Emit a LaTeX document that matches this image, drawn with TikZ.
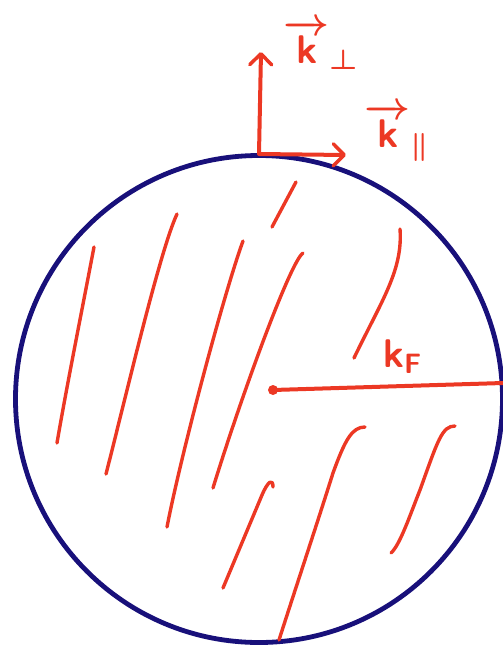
\documentclass[tikz,border=0pt]{standalone}
\usetikzlibrary{arrows.meta}
\definecolor{navy}{RGB}{24,16,122}
\definecolor{pen}{RGB}{236,56,36}
\begin{document}
\begin{tikzpicture}[x=1pt,y=-1pt,
  hatch/.style={pen, line width=3.4pt, line cap=round, line join=round},
  vecarrow/.style={pen, line width=4pt, line cap=round, line join=round},
  lbl/.style={text=pen, inner sep=0pt, scale=4, transform shape, font=\boldmath},
  barb/.tip={Straight Barb[length=11pt, width=22pt, line width=3.5pt, round]}]
\useasboundingbox (0,0) rectangle (503,649);
% Fermi sphere
\node[circle, draw=navy, line width=4.8pt, minimum size=487pt, inner sep=0pt] (fs) at (259,399) {};
% hatching
\draw[hatch] (94,247) .. controls (82,310) and (66,390) .. (57,443);
\draw[hatch] (177,214) .. controls (160,250) and (125,400) .. (106,474);
\draw[hatch] (243,241) .. controls (225,290) and (182,450) .. (167,527);
\draw[hatch] (296,182) -- (272,227);
\draw[hatch] (303,253) .. controls (290,262) and (240,400) .. (213,488);
\draw[hatch] (400,229) .. controls (403,270) and (382,300) .. (354,358);
\draw[hatch] (273,487) .. controls (273,478) and (268,481) .. (262,495) -- (223,588);
\draw[hatch] (365,427) .. controls (352,427) and (345,440) .. (333,473) .. controls (315,530) and (295,590) .. (279,640);
\draw[hatch] (455,426) .. controls (442,426) and (438,440) .. (420,490) .. controls (410,515) and (400,545) .. (391,553);
% radius k_F
\node[circle, fill=pen, minimum size=10pt, inner sep=0pt] (c) at (273,390) {};
\coordinate (rim) at (503,383);
\draw[pen, line width=4pt] (c.center) -- (rim);
\node[lbl] (kF) at (403,357) {$\mathsf{k}_{\mathsf{F}}$};
% k vectors
\coordinate (o) at (259,154);
\coordinate (up) at (261,52);
\coordinate (right) at (346,155);
\draw[vecarrow, barb-barb] (up) -- (o) -- (right);
\node[lbl] (kperp) at (322,45) {$\overrightarrow{\mathsf{k}\rule{0pt}{8pt}}_{\perp}$};
\node[lbl] (kpar) at (398,133) {$\overrightarrow{\mathsf{k}\rule{0pt}{8pt}}_{\parallel}$};
\end{tikzpicture}
\end{document}
